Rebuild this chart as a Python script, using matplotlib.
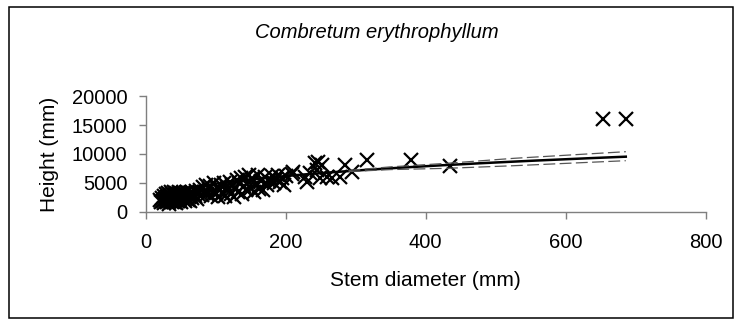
import numpy as np
import matplotlib.pyplot as plt
from matplotlib.patches import Rectangle

plt.rcParams['font.family'] = ['Liberation Sans', 'DejaVu Sans']

# stem diameter (mm) and height (mm)
# dense cluster of small stems
diam_small = [20, 22, 24, 25, 26, 27, 28, 29, 30, 30, 31, 32, 33, 33, 34, 35, 35, 36,
              37, 37, 38, 38, 39, 40, 40, 41, 42, 42, 43, 44, 44, 45, 46, 46, 47, 48,
              48, 49, 50, 50, 51, 52, 53, 54, 55, 55, 56, 57, 58, 59, 60, 60, 62, 63,
              64, 65, 66, 67, 68, 70, 72, 73, 75]
height_small = [2000, 1600, 2400, 1900, 2800, 1500, 2200, 3000, 1700, 2600, 2100, 3300,
                1800, 2500, 1400, 2900, 2200, 3500, 1900, 2700, 1600, 3100, 2300, 2000,
                3400, 1700, 2600, 2900, 2100, 3200, 1500, 2400, 1800, 3000, 2700, 2200,
                3500, 1900, 2500, 3100, 1600, 2800, 2300, 3300, 2000, 2700, 1800, 3000,
                2400, 3500, 2100, 2900, 2600, 3200, 1900, 2800, 3400, 2300, 3000, 2700,
                3600, 2200, 3100]

diam_mid = [78, 80, 82, 84, 86, 88, 90, 92, 94, 96, 98, 100, 102, 104, 106, 108, 110,
            112, 114, 116, 118, 120, 122, 124, 126, 128, 130,
            132, 134, 136, 138, 140, 142, 144, 146, 148, 150, 152, 155, 158, 160, 162,
            165, 168, 170, 173, 176, 180, 183, 186, 189, 192, 195, 198, 200]
height_mid = [3700, 2900, 4200, 3400, 4700, 3000, 3900, 4500, 2700, 3600, 4900, 3200,
              4100, 2600, 3800, 4700, 3300, 5000, 2800, 4300, 3700, 5200, 3100, 4600,
              2600, 4000, 5500,
              3500, 4900, 5800, 3000, 4400, 6100, 3800, 5200, 6400, 4100, 5600, 3400,
              4800, 6300, 3900, 5400, 3800, 6000, 4700, 5300, 6200, 4900, 5700, 6400,
              5100, 5900, 4700, 6200]

diam_large = [209, 211, 228, 230, 235, 242, 245, 247, 249, 252, 259, 266, 278, 285,
              295, 316, 379, 435, 653, 686]
height_large = [6500, 6900, 6000, 5200, 6650, 8390, 7230, 8600, 5790, 8090, 6070,
                5790, 6070, 8090, 6930, 9000, 8960, 8000, 16000, 16000]

# power fit: height = a * diameter ** b
FIT_A = 957.0
FIT_B = 0.352

# dashed band around the fit, read at a few diameters
band_x = [290, 350, 431, 526, 686]
band_upper = [7150, 7770, 8390, 9250, 10400]
band_lower = [6950, 7300, 7520, 7970, 8840]

x_ticks = [0, 200, 400, 600, 800]
y_ticks = [0, 5000, 10000, 15000, 20000]

diam = np.array(diam_small + diam_mid + diam_large, dtype=float)
height = np.array(height_small + height_mid + height_large, dtype=float)

fig = plt.figure(figsize=(7.36, 3.2), dpi=100)
ax = fig.add_axes([145.5 / 736, 1 - 211.7 / 320, 560.1 / 736, 115.4 / 320])

ax.plot(diam, height, linestyle="none", marker="x", color="black",
        markersize=10.5, markeredgewidth=1.6, clip_on=False, zorder=3)

xs = np.linspace(diam.min(), diam.max(), 200)
ax.plot(xs, FIT_A * xs ** FIT_B, color="black", lw=1.8, zorder=4)
ax.plot(band_x, band_upper, color="#555555", lw=0.9, ls=(0, (9.5, 3.5)), zorder=4)
ax.plot(band_x, band_lower, color="#555555", lw=0.9, ls=(0, (9.5, 3.5)), zorder=4)

ax.set_xlim(0, 800)
ax.set_ylim(0, 20000)
ax.set_xticks(x_ticks)
ax.set_yticks(y_ticks)
ax.tick_params(labelsize=14.5, length=5, width=1, color="#7f7f7f", pad=8)
ax.tick_params(axis="x", pad=10)
for side in ["top", "right"]:
    ax.spines[side].set_visible(False)
for side in ["left", "bottom"]:
    ax.spines[side].set_color("#7f7f7f")
    ax.spines[side].set_linewidth(1.0)

ax.set_xlabel("Stem diameter (mm)", fontsize=15)
ax.xaxis.label.set_va("center")
ax.xaxis.set_label_coords(0.499, (211.7 - 280) / 115.4)
ax.set_ylabel("Height (mm)", fontsize=15)
ax.yaxis.label.set_va("center")
ax.yaxis.set_label_coords((49 - 145.5) / 560.1, 0.5)

fig.text(377 / 736, 1 - 32 / 320, "Combretum erythrophyllum", fontsize=14.5,
         style="italic", ha="center", va="center")

# outer chart frame
fig.patches.append(Rectangle((8.5 / 736, 1 - 318 / 320), 724.5 / 736, 310.7 / 320,
                             transform=fig.transFigure, fill=False,
                             edgecolor="black", lw=1.1))

fig.savefig("out.png", dpi=100)
